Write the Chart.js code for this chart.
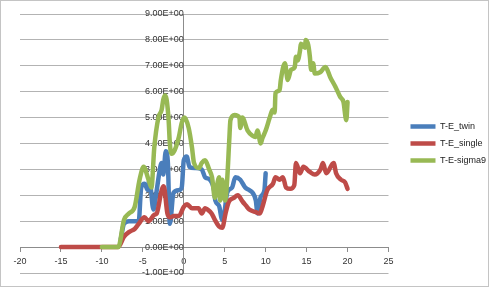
<!DOCTYPE html>
<html>
<head>
<meta charset="utf-8">
<script src="https://cdn.jsdelivr.net/npm/chart.js@4.4.0/dist/chart.umd.min.js"></script>
<style>
  html, body { margin: 0; padding: 0; background: #fff; }
  #box { width: 489px; height: 287px; box-sizing: border-box; border: 1px solid #c4c4c4; background: #fff; }
</style>
</head>
<body>
<div id="box"><canvas id="myChart"></canvas></div>
<script>
// series: T-E_twin
const twinX = [-7.7,-7.3,-6.7,-6.0,-5.5,-5.2,-4.8,-4.4,-4.2,-3.7,-3.3,-3.0,-2.7,-2.5,-2.2,-1.95,-1.7,-1.25,-0.6,-0.25,0,0.35,0.7,1.4,2.2,2.6,3.2,3.7,3.85,4.3,4.7,4.95,5.3,5.9,6.3,6.9,7.5,8.0,8.4,8.8,9.0,9.4,9.85,10.0];
const twinY = [0.3,0.9,1.0,1.0,1.0,2.3,2.45,2.2,2.6,1.45,2.2,2.85,3.25,2.8,3.7,3.3,0.9,2.1,2.2,2.3,3.35,3.5,3.1,3.05,3.0,2.7,2.6,2.2,1.8,1.6,1.05,1.3,2.1,2.3,2.7,2.6,2.3,2.2,2.1,1.8,1.3,1.95,2.2,2.85];

// series: T-E_single
const singleX = [-15,-8,-7.3,-6.6,-6.0,-5.5,-4.8,-4.3,-3.6,-3.3,-2.7,-2.45,-2.0,-1.7,-1.2,-0.6,0,0.4,1.0,1.8,2.2,2.6,2.9,3.4,3.8,4.3,4.7,5.1,5.5,6.1,6.6,7.2,7.6,8.0,8.8,9.3,9.6,10.2,10.9,11.2,11.7,12.1,12.5,13.0,13.5,13.7,14.2,14.6,15.4,16.0,16.7,17.0,17.4,18.3,18.6,19.2,19.7,20.0];
const singleY = [0,0,0.4,0.6,0.7,0.9,1.15,1.0,1.25,1.3,2.2,2.35,1.3,1.15,1.2,1.2,1.55,1.65,1.5,1.5,1.3,1.5,1.45,1.3,1.05,0.8,0.75,1.3,1.75,1.9,2.0,1.75,1.6,1.45,1.35,1.3,1.55,2.2,2.45,2.7,2.6,2.7,2.3,2.25,2.4,3.25,2.85,3.1,2.9,2.8,3.0,3.25,2.85,3.25,2.85,2.6,2.5,2.25];

// series: T-E-sigma9
const sigmaX = [-10,-8,-7.3,-6.7,-6.0,-5.4,-4.9,-4.3,-3.95,-3.6,-3.1,-2.7,-2.5,-2.3,-2.1,-1.85,-1.7,-1.5,-1.1,-0.6,-0.25,0.1,0.6,1.0,1.25,1.85,2.2,2.6,3.1,3.45,3.8,4.1,4.3,4.45,4.7,4.9,5.05,5.3,5.55,5.7,6.2,6.8,6.9,7.15,7.8,8.4,8.75,9.0,9.4,9.6,10.0,10.5,10.85,11.1,11.2,11.7,11.85,12.35,12.7,13.1,13.55,13.7,13.9,14.2,14.3,14.8,14.9,15.2,15.4,15.55,15.8,16.0,16.65,17.3,17.9,18.5,19.1,19.5,19.85,20.0];
const sigmaY = [0,0,1.05,1.3,1.55,2.6,3.1,2.6,2.3,3.85,5.0,5.3,5.7,5.85,5.7,4.9,4.0,3.6,3.75,4.25,4.8,5.0,4.6,3.85,3.25,3.05,3.25,3.35,3.0,2.7,1.9,2.45,2.7,1.8,2.6,2.1,1.8,2.6,4.1,4.9,5.1,5.0,4.6,5.0,4.5,4.3,4.25,4.5,4.0,4.2,4.5,5.0,5.3,5.2,5.95,6.05,6.45,7.1,6.45,6.85,6.95,7.35,7.2,7.6,7.85,7.7,8.0,7.8,7.35,6.85,7.1,6.7,6.75,6.95,6.55,6.2,5.8,5.6,4.9,5.6];

const seriesNames = ['T-E_twin', 'T-E_single', 'T-E-sigma9'];
const xMin = -20, xMax = 25, xStep = 5;
const yMin = -1, yMax = 9, yStep = 1;

function pts(xs, ys) {
    return xs.map((x, i) => ({ x: x, y: ys[i] }));
}

// Excel style 9.00E+00
function sci(v) {
    if (v === 0) return '0.00E+00';
    const e = Math.floor(Math.log10(Math.abs(v)));
    const m = v / Math.pow(10, e);
    const es = (e < 0 ? '-' : '+') + String(Math.abs(e)).padStart(2, '0');
    return m.toFixed(2) + 'E' + es;
}

Chart.defaults.font.family = "'Liberation Sans', Arial, sans-serif";
Chart.defaults.font.size = 9;
Chart.defaults.color = '#333';

const colors = ['#4a7ebb', '#be4b48', '#98b954'];

const ctx = document.getElementById('myChart').getContext('2d');
new Chart(ctx, {
    type: 'scatter',
    data: {
        datasets: [
            { label: seriesNames[0], data: pts(twinX, twinY), order: 3 },
            { label: seriesNames[1], data: pts(singleX, singleY), order: 2 },
            { label: seriesNames[2], data: pts(sigmaX, sigmaY), order: 1 }
        ].map((d, i) => Object.assign(d, {
            showLine: true,
            borderColor: colors[i],
            backgroundColor: colors[i],
            borderWidth: 4.5,
            pointRadius: 0,
            pointHoverRadius: 0,
            cubicInterpolationMode: 'monotone',
            borderCapStyle: 'round',
            borderJoinStyle: 'round'
        }))
    },
    options: {
        responsive: true,
        maintainAspectRatio: false,
        animation: false,
        layout: { padding: { left: 19, top: 13, bottom: 13, right: 6 } },
        plugins: {
            tooltip: { enabled: false },
            legend: {
                position: 'right',
                labels: {
                    usePointStyle: true,
                    pointStyle: 'line',
                    pointStyleWidth: 25,
                    padding: 8,
                    font: { size: 9 },
                    color: '#222',
                    sort: (a, b) => a.datasetIndex - b.datasetIndex
                }
            }
        },
        scales: {
            x: {
                type: 'linear',
                position: { y: 0 },
                min: xMin,
                max: xMax,
                grid: { drawOnChartArea: false, tickLength: 4, color: '#8c8c8c' },
                border: { color: '#8c8c8c' },
                ticks: { stepSize: xStep, padding: 5, maxRotation: 0 }
            },
            y: {
                type: 'linear',
                position: { x: 0 },
                min: yMin,
                max: yMax,
                grid: { color: '#b3b3b3', tickLength: 4 },
                border: { color: '#8c8c8c' },
                ticks: { stepSize: yStep, padding: 4, callback: v => sci(v) }
            }
        }
    },
    plugins: [{
        id: 'legendShift',
        afterLayout(chart) {
            chart.legend.left += 14;
            chart.legend.right += 14;
        }
    }]
});
</script>
</body>
</html>
